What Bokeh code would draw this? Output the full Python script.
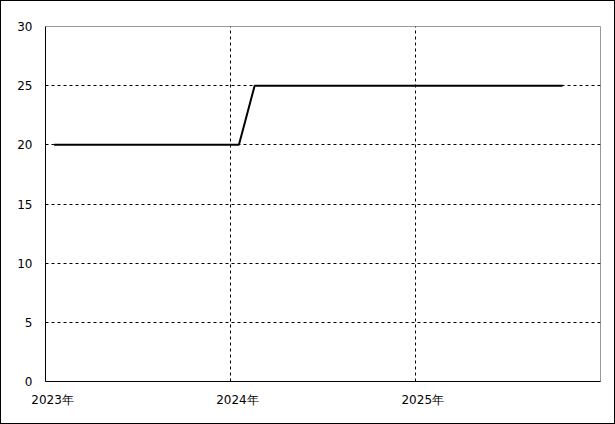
from datetime import datetime
import pandas as pd
from bokeh.plotting import figure
from bokeh.models import Range1d, FixedTicker, DatetimeTickFormatter, ColumnDataSource
from bokeh.embed import file_html
from bokeh.resources import INLINE

# ---- data ----
months = [
    "2023-01-18", "2023-02-18", "2023-03-18", "2023-04-18", "2023-05-18", "2023-06-18",
    "2023-07-18", "2023-08-18", "2023-09-18", "2023-10-18", "2023-11-18", "2023-12-18",
    "2024-01-18", "2024-02-18", "2024-03-18", "2024-04-18", "2024-05-18", "2024-06-18",
    "2024-07-18", "2024-08-18", "2024-09-18", "2024-10-18", "2024-11-18", "2024-12-18",
    "2025-01-18", "2025-02-18", "2025-03-18", "2025-04-18", "2025-05-18", "2025-06-18",
    "2025-07-18", "2025-08-18", "2025-09-18", "2025-10-18",
]
values = [
    20, 20, 20, 20, 20, 20, 20, 20, 20, 20, 20, 20,
    20, 25, 25, 25, 25, 25, 25, 25, 25, 25, 25, 25,
    25, 25, 25, 25, 25, 25, 25, 25, 25, 25,
]
year_starts = ["2023-01-01", "2024-01-01", "2025-01-01"]
year_label_dates = ["2023-01-15", "2024-01-15", "2025-01-15"]
x_start, x_end = "2023-01-01", "2026-01-01"
y_min, y_max, y_step = 0, 30, 5

def ms(s):
    return pd.Timestamp(s).value / 1e6

src = ColumnDataSource(dict(x=pd.to_datetime(months), y=values))

p = figure(
    width=615, height=424,
    x_axis_type="datetime",
    x_range=Range1d(pd.Timestamp(x_start), pd.Timestamp(x_end)),
    y_range=Range1d(y_min, y_max),
    output_backend="svg", toolbar_location=None,
    min_border_left=44, min_border_top=25, min_border_right=16, min_border_bottom=44,
)
p.styles = {"border": "1px solid black", "box-sizing": "border-box"}
p.background_fill_color = "white"
p.border_fill_color = "white"
p.outline_line_color = "#999999"
p.outline_line_width = 1

p.line("x", "y", source=src, line_color="black", line_width=2)

font = "DejaVu Sans"
# x axis
xa = p.xaxis[0]
xa.ticker = FixedTicker(ticks=[ms(d) for d in year_label_dates])
xa.formatter = DatetimeTickFormatter(
    years="%Y年", months="%Y年", days="%Y年", hours="%Y年", hourmin="%Y年",
    minutes="%Y年", minsec="%Y年", seconds="%Y年", milliseconds="%Y年", microseconds="%Y年",
)
xa.major_tick_line_color = None
xa.minor_tick_line_color = None
xa.major_tick_out = 0
xa.major_label_standoff = 11
xa.axis_line_color = "black"
xa.major_label_text_font = font
xa.major_label_text_font_size = "12px"
xa.major_label_text_color = "black"

# y axis
ya = p.yaxis[0]
ya.ticker = FixedTicker(ticks=list(range(y_min, y_max + 1, y_step)))
ya.major_tick_line_color = None
ya.minor_tick_line_color = None
ya.major_tick_out = 0
ya.major_label_standoff = 13
ya.axis_line_color = "black"
ya.major_label_text_font = font
ya.major_label_text_font_size = "12px"
ya.major_label_text_color = "black"

# grids
p.xgrid.ticker = FixedTicker(ticks=[ms(d) for d in year_starts])
p.xgrid.grid_line_color = "black"
p.xgrid.grid_line_dash = "3 3"
p.ygrid.ticker = FixedTicker(ticks=list(range(y_min + y_step, y_max, y_step)))
p.ygrid.grid_line_color = "black"
p.ygrid.grid_line_dash = "3 3"

open("out.html", "w").write(file_html(p, INLINE))
